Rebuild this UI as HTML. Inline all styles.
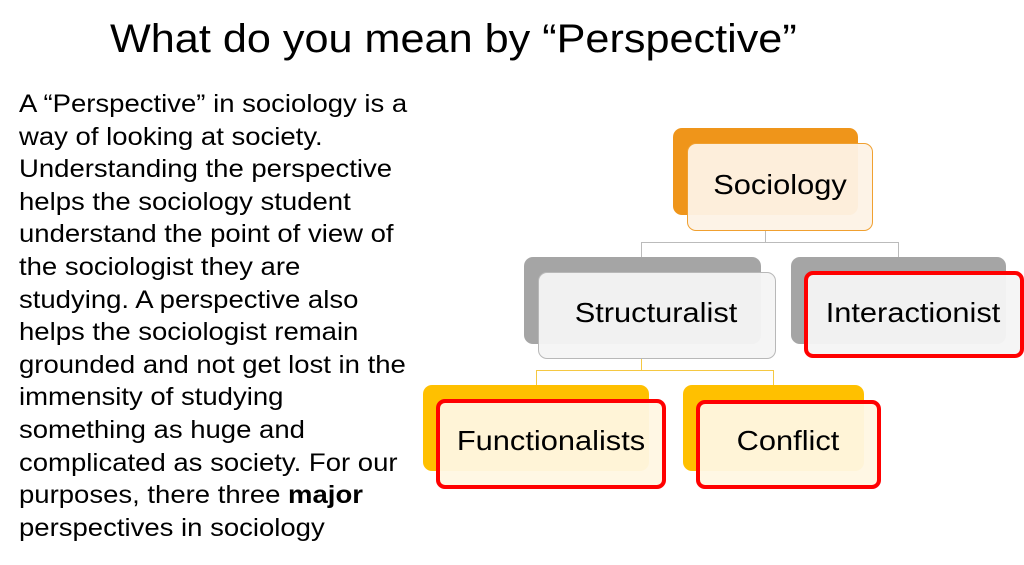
<!DOCTYPE html>
<html><head><meta charset="utf-8"><style>
body{margin:0;width:1024px;height:565px;background:#fff;position:relative;overflow:hidden;font-family:"Liberation Sans",sans-serif;color:#000}
.t{position:absolute;left:110px;top:17px;font-size:40px;white-space:nowrap;transform:scaleX(1.08);transform-origin:left top}
.b{position:absolute;left:19px;top:88px;font-size:25px;line-height:32.6px;white-space:nowrap;transform:scaleX(1.1);transform-origin:left top}
.r{position:absolute;border-radius:9px;box-sizing:border-box}
.lbl{position:absolute;font-size:28px;white-space:nowrap;transform:translate(-50%,-50%) scaleX(1.1)}
.l{position:absolute}
</style></head><body>
<div class="t">What do you mean by “Perspective”</div>
<div class="b">A “Perspective” in sociology is a<br>way of looking at society.<br>Understanding the perspective<br>helps the sociology student<br>understand the point of view of<br>the sociologist they are<br>studying. A perspective also<br>helps the sociologist remain<br>grounded and not get lost in the<br>immensity of studying<br>something as huge and<br>complicated as society. For our<br>purposes, there three <b>major</b><br>perspectives in sociology</div>

<div class="l" style="left:765px;top:230px;width:1px;height:12px;background:#bbb"></div>
<div class="l" style="left:641px;top:242px;width:258px;height:1px;background:#bbb"></div>
<div class="l" style="left:641px;top:242px;width:1px;height:15px;background:#bbb"></div>
<div class="l" style="left:898px;top:242px;width:1px;height:15px;background:#bbb"></div>
<div class="l" style="left:641px;top:358px;width:1px;height:12px;background:#f5c842"></div>
<div class="l" style="left:536px;top:370px;width:238px;height:1px;background:#f5c842"></div>
<div class="l" style="left:536px;top:370px;width:1px;height:15px;background:#f5c842"></div>
<div class="l" style="left:773px;top:370px;width:1px;height:15px;background:#f5c842"></div>

<div class="r" style="left:673px;top:128px;width:185px;height:87px;background:#ef951a"></div>
<div class="r" style="left:687px;top:143px;width:186px;height:88px;background:rgba(253,242,230,0.95);border:1px solid #f0a030"></div>
<div class="lbl" style="left:780px;top:185px">Sociology</div>

<div class="r" style="left:524px;top:257px;width:237px;height:87px;background:#a5a5a5"></div>
<div class="r" style="left:538px;top:272px;width:238px;height:87px;background:rgba(244,244,244,0.95);border:1px solid #b8b8b8"></div>
<div class="lbl" style="left:656px;top:313px">Structuralist</div>

<div class="r" style="left:791px;top:257px;width:215px;height:87px;background:#a5a5a5"></div>
<div class="r" style="left:804px;top:271px;width:220px;height:87px;background:rgba(244,244,244,0.95);border:4px solid #ff0000"></div>
<div class="lbl" style="left:913px;top:313px">Interactionist</div>

<div class="r" style="left:423px;top:385px;width:226px;height:86px;background:#ffc000"></div>
<div class="r" style="left:436px;top:399px;width:230px;height:90px;background:rgba(255,247,227,0.95);border:4px solid #ff0000"></div>
<div class="lbl" style="left:551px;top:441px">Functionalists</div>

<div class="r" style="left:683px;top:385px;width:181px;height:86px;background:#ffc000"></div>
<div class="r" style="left:696px;top:400px;width:185px;height:89px;background:rgba(255,247,227,0.95);border:4px solid #ff0000"></div>
<div class="lbl" style="left:788px;top:441px">Conflict</div>
</body></html>
